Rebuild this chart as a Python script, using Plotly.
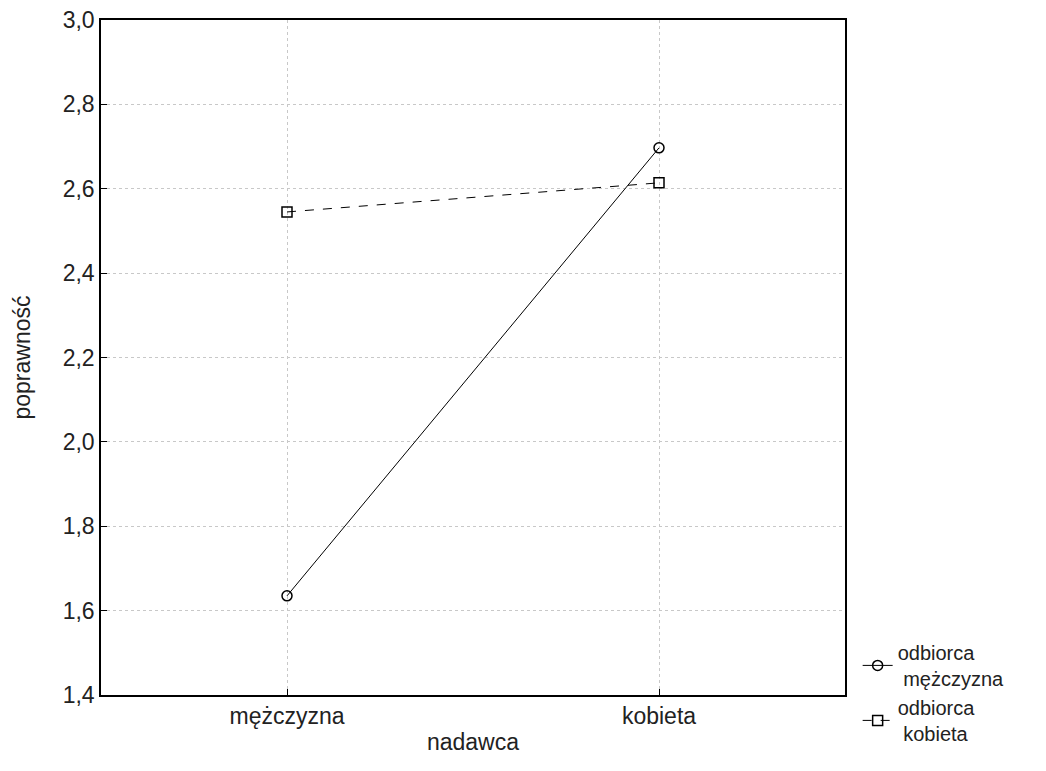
import plotly.graph_objects as go

categories = ["mężczyzna", "kobieta"]
odbiorca_mezczyzna = [1.635, 2.697]
odbiorca_kobieta = [2.545, 2.614]
series_names = ["odbiorca<br> mężczyzna", "odbiorca<br> kobieta"]
y_ticks = [1.4, 1.6, 1.8, 2.0, 2.2, 2.4, 2.6, 2.8, 3.0]

font = "Liberation Sans, Arial, sans-serif"
tfont = dict(family=font, size=23, color="#222")

fig = go.Figure()
fig.add_trace(go.Scatter(
    x=categories, y=odbiorca_mezczyzna, name=series_names[0],
    mode="lines+markers",
    line=dict(color="black", width=1),
    marker=dict(symbol="circle-open", size=10, color="black", line=dict(width=1.5)),
))
fig.add_trace(go.Scatter(
    x=categories, y=odbiorca_kobieta, name=series_names[1],
    mode="lines+markers",
    line=dict(color="black", width=1, dash="dash"),
    marker=dict(symbol="square-open", size=10, color="black", line=dict(width=1.5)),
))

fig.update_layout(
    width=1046, height=771,
    margin=dict(l=101, r=201, t=20, b=76, autoexpand=False),
    paper_bgcolor="white", plot_bgcolor="white",
    separators=", ",
    font=dict(family=font, size=23, color="#222"),
    legend=dict(x=1.017, y=0.092, xanchor="left", yanchor="top",
                font=dict(family=font, size=20, color="#222"), tracegroupgap=0, itemwidth=30,
                bgcolor="rgba(0,0,0,0)"),
    xaxis=dict(
        type="category", range=[-0.5, 1.5], automargin=False,
        showline=True, linecolor="black", linewidth=1.5, mirror=True,
        showgrid=True, gridcolor="#c8c8c8", griddash="dot", gridwidth=1,
        ticks="inside", ticklen=6, tickcolor="black",
        title=dict(text="nadawca", standoff=6, font=tfont),
        tickfont=tfont,
    ),
    yaxis=dict(
        range=[1.4, 3.0], tickvals=y_ticks, tickformat=".1f", automargin=False,
        showline=True, linecolor="black", linewidth=1.5, mirror=True,
        showgrid=True, gridcolor="#c8c8c8", griddash="dot", gridwidth=1,
        ticks="inside", ticklen=6, tickcolor="black",
        title=dict(text="poprawność", standoff=26, font=tfont),
        tickfont=tfont, zeroline=False,
    ),
)

fig.write_html("out.html")
